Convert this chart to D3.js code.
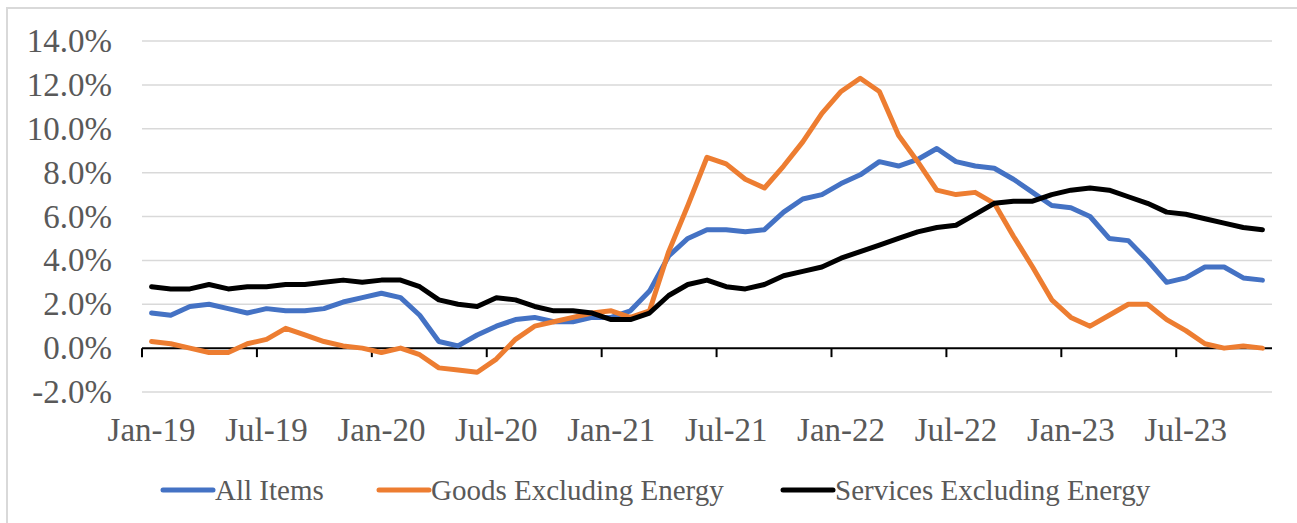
<!DOCTYPE html>
<html>
<head>
<meta charset="utf-8">
<script src="https://cdn.jsdelivr.net/npm/d3@7"></script>
<style>
  body { margin: 0; background: #fff; }
  svg text { font-family: "Liberation Serif", "Times New Roman", serif; fill: #595959; }
</style>
</head>
<body>
<div id="chart"></div>
<script>
const months = [
  "Jan-19","Feb-19","Mar-19","Apr-19","May-19","Jun-19","Jul-19","Aug-19","Sep-19","Oct-19","Nov-19","Dec-19",
  "Jan-20","Feb-20","Mar-20","Apr-20","May-20","Jun-20","Jul-20","Aug-20","Sep-20","Oct-20","Nov-20","Dec-20",
  "Jan-21","Feb-21","Mar-21","Apr-21","May-21","Jun-21","Jul-21","Aug-21","Sep-21","Oct-21","Nov-21","Dec-21",
  "Jan-22","Feb-22","Mar-22","Apr-22","May-22","Jun-22","Jul-22","Aug-22","Sep-22","Oct-22","Nov-22","Dec-22",
  "Jan-23","Feb-23","Mar-23","Apr-23","May-23","Jun-23","Jul-23","Aug-23","Sep-23","Oct-23","Nov-23"
];
const tickLabels = ["Jan-19","Jul-19","Jan-20","Jul-20","Jan-21","Jul-21","Jan-22","Jul-22","Jan-23","Jul-23"];
const yTicks = [-2, 0, 2, 4, 6, 8, 10, 12, 14];

const allItems = [
  1.6,1.5,1.9,2.0,1.8,1.6,1.8,1.7,1.7,1.8,2.1,2.3,
  2.5,2.3,1.5,0.3,0.1,0.6,1.0,1.3,1.4,1.2,1.2,1.4,
  1.4,1.7,2.6,4.2,5.0,5.4,5.4,5.3,5.4,6.2,6.8,7.0,
  7.5,7.9,8.5,8.3,8.6,9.1,8.5,8.3,8.2,7.7,7.1,6.5,
  6.4,6.0,5.0,4.9,4.0,3.0,3.2,3.7,3.7,3.2,3.1
];
const goods = [
  0.3,0.2,0.0,-0.2,-0.2,0.2,0.4,0.9,0.6,0.3,0.1,0.0,
  -0.2,0.0,-0.3,-0.9,-1.0,-1.1,-0.5,0.4,1.0,1.2,1.4,1.6,
  1.7,1.4,1.7,4.4,6.5,8.7,8.4,7.7,7.3,8.3,9.4,10.7,
  11.7,12.3,11.7,9.7,8.5,7.2,7.0,7.1,6.6,5.1,3.7,2.2,
  1.4,1.0,1.5,2.0,2.0,1.3,0.8,0.2,0.0,0.1,0.0
];
const services = [
  2.8,2.7,2.7,2.9,2.7,2.8,2.8,2.9,2.9,3.0,3.1,3.0,
  3.1,3.1,2.8,2.2,2.0,1.9,2.3,2.2,1.9,1.7,1.7,1.6,
  1.3,1.3,1.6,2.4,2.9,3.1,2.8,2.7,2.9,3.3,3.5,3.7,
  4.1,4.4,4.7,5.0,5.3,5.5,5.6,6.1,6.6,6.7,6.7,7.0,
  7.2,7.3,7.2,6.9,6.6,6.2,6.1,5.9,5.7,5.5,5.4
];

const series = [
  { name: "All Items", values: allItems, color: "#4472C4" },
  { name: "Goods Excluding Energy", values: goods, color: "#ED7D31" },
  { name: "Services Excluding Energy", values: services, color: "#000000" }
];

const width = 1297, height = 523;
const svg = d3.select("#chart").append("svg")
  .attr("width", width)
  .attr("height", height);

// outer frame
svg.append("rect")
  .attr("x", 7).attr("y", 8)
  .attr("width", 1310).attr("height", 530)
  .attr("fill", "none")
  .attr("stroke", "#d9d9d9")
  .attr("stroke-width", 2);

const x = d3.scaleBand().domain(months).range([142, 1272]).padding(0);
const y = d3.scaleLinear().domain([-2, 14]).range([392, 41]);

// gridlines
svg.append("g")
  .selectAll("line")
  .data(yTicks.filter(d => d !== 0))
  .enter()
  .append("line")
  .attr("x1", 142).attr("x2", 1272)
  .attr("y1", d => y(d)).attr("y2", d => y(d))
  .attr("stroke", "#d9d9d9")
  .attr("stroke-width", 1.5);

// y labels
svg.append("g")
  .selectAll("text")
  .data(yTicks)
  .enter()
  .append("text")
  .attr("x", 112)
  .attr("y", d => y(d) + 11)
  .attr("text-anchor", "end")
  .style("font-size", "33px")
  .text(d => d.toFixed(1) + "%");

// x axis line + ticks
svg.append("line")
  .attr("x1", 142).attr("x2", 1272)
  .attr("y1", y(0)).attr("y2", y(0))
  .attr("stroke", "#000")
  .attr("stroke-width", 2);

svg.append("g")
  .selectAll("line")
  .data(tickLabels)
  .enter()
  .append("line")
  .attr("x1", d => x(d)).attr("x2", d => x(d))
  .attr("y1", y(0)).attr("y2", y(0) + 9)
  .attr("stroke", "#000")
  .attr("stroke-width", 2);

svg.append("g")
  .selectAll("text")
  .data(tickLabels)
  .enter()
  .append("text")
  .attr("x", d => x(d) + x.bandwidth() / 2)
  .attr("y", 441)
  .attr("text-anchor", "middle")
  .style("font-size", "33px")
  .text(d => d);

// lines
const line = d3.line()
  .x((d, i) => x(months[i]) + x.bandwidth() / 2)
  .y(d => y(d));

svg.append("g")
  .selectAll("path")
  .data(series)
  .enter()
  .append("path")
  .attr("d", d => line(d.values))
  .attr("fill", "none")
  .attr("stroke", d => d.color)
  .attr("stroke-width", 5)
  .attr("stroke-linejoin", "round")
  .attr("stroke-linecap", "round");

// legend
const legendX = [163, 379, 783];
const legend = svg.append("g")
  .selectAll("g")
  .data(series)
  .enter()
  .append("g")
  .attr("transform", (d, i) => `translate(${legendX[i]},490)`);

legend.append("line")
  .attr("x1", 0).attr("x2", 50)
  .attr("stroke", d => d.color)
  .attr("stroke-width", 5)
  .attr("stroke-linecap", "round");

legend.append("text")
  .attr("x", 52)
  .attr("y", 10)
  .style("font-size", "29px")
  .text(d => d.name);
</script>
</body>
</html>
